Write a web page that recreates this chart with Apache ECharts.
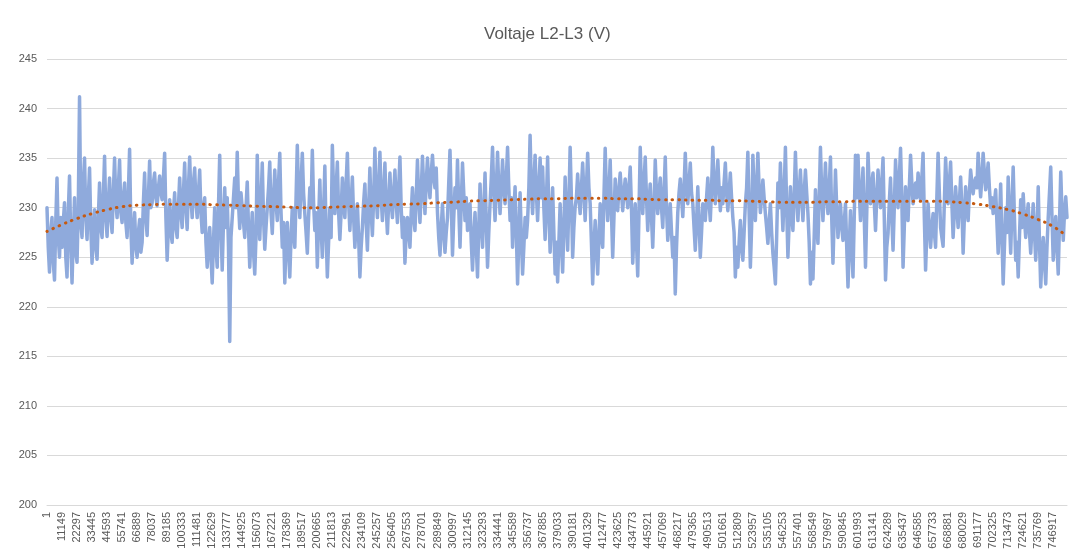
<!DOCTYPE html>
<html>
<head>
<meta charset="utf-8">
<script src="https://cdn.jsdelivr.net/npm/echarts@6/dist/echarts.min.js"></script>
<style>
  html, body { margin: 0; padding: 0; background: #ffffff; }
  #chart { width: 1073px; height: 554px; }
</style>
</head>
<body>
<div id="chart"></div>
<script>
// Line-to-line voltage L2-L3, one reading kept every 929 records
const chartTitle = 'Voltaje L2-L3 (V)';
const firstRecord = 1;
const sampleStep = 929;
const labelEvery = 12;           // 12 samples x 929 = 11148 records between labels

const voltage = [
  230, 226, 223.5, 227.5, 229, 224.5, 222.7, 228.5, 233, 227, 225, 229,
  226, 228.5, 230.5, 225, 223, 229.5, 233.2, 226.5, 222.4, 227, 231, 225.5,
  224.5, 230, 241.2, 228.5, 227, 232.5, 235, 229, 226.8, 231, 234, 228,
  224.4, 227.5, 229.8, 226, 224.8, 229, 232.5, 228, 227, 231, 235.2, 229,
  227.1, 230.5, 233, 229, 227.5, 231.5, 235, 230.5, 229, 232, 234.8, 229.5,
  228.5, 231, 232.5, 228.5, 227, 231.5, 235.9, 228, 224.4, 227.5, 229.5, 226,
  225, 227.5, 228.8, 225.5, 226.5, 230.5, 233.5, 229, 227.2, 231, 234.7, 230,
  230.5, 232.5, 233.5, 231, 230.2, 232, 233.2, 231.5, 230.8, 233, 235.5, 229,
  224.7, 228, 230.8, 227.5, 226.5, 229.5, 231.5, 228, 227, 230, 233, 229.5,
  228, 231.5, 234.5, 230, 227.8, 232, 235.1, 231, 229, 232.5, 234, 230.5,
  229, 231.5, 233.8, 229.5, 227.5, 230, 231, 226.5, 224, 226.5, 228, 225,
  222.4, 226.5, 230, 226, 224, 230, 235.3, 228, 223.7, 228.5, 232, 228,
  231, 226, 216.5, 227, 229, 231, 233, 230, 235.6, 230.5, 227.9, 231.5,
  231.5, 228.5, 227, 230, 232.6, 228, 224, 227, 229.5, 225.5, 223.3, 227,
  235.3, 230, 226.8, 230.5, 234.5, 229, 225.8, 228, 230, 232, 234.6, 229.5,
  227.4, 231, 233.8, 230.5, 228.7, 232.5, 235.5, 229.5, 226, 228.5, 222.4, 226.5,
  228.5, 225.5, 223, 227, 230, 227.5, 226, 231, 236.3, 231.5, 229, 232.5,
  235.5, 231.5, 229.4, 227.5, 225.4, 229, 232, 230, 235.8, 230.5, 227.7, 229.5,
  224, 228.5, 232.8, 228, 225, 229.5, 234.2, 227.5, 223, 226.5, 230, 227,
  236.3, 231.5, 229.4, 232, 234.6, 229.5, 226.8, 229.5, 233, 230.5, 229, 232.5,
  235.5, 230.5, 227.7, 230.5, 233.1, 229, 226, 228.5, 230.4, 227, 223, 226,
  228, 230.5, 232.4, 228.5, 225.7, 230, 234, 229.5, 227.2, 231, 236, 231,
  229, 232, 235.6, 231, 228.7, 231.5, 234.5, 230, 227.4, 230.5, 233.5, 230.5,
  229, 231.5, 233.8, 230.5, 228.5, 232, 235.1, 230, 227, 229, 224.4, 227.5,
  229, 227.5, 226, 229.5, 232, 229, 227.7, 231, 234.8, 231, 228.5, 231.5,
  235.2, 232, 229.4, 232.5, 235, 232.5, 231, 233.5, 235.3, 233, 232, 234,
  229.5, 227, 225.2, 228, 230.4, 227.5, 225.5, 227.5, 229, 232.5, 235.8, 230.5,
  225.2, 229, 232, 230, 234.8, 230, 226, 230.5, 234.5, 231.5, 228.7, 231,
  227.7, 229.5, 230.4, 226.5, 223.7, 227, 229.5, 226, 223, 228, 232.4, 228.5,
  226, 230, 233.5, 228.5, 224, 227.5, 230.4, 233, 236.1, 231.5, 228.7, 232,
  235.6, 232, 229.4, 232, 234.8, 232, 230.4, 233, 236.1, 232, 228.7, 231,
  226, 229.5, 232.1, 227.5, 222.3, 227, 231.5, 227, 223.3, 226, 229, 227,
  228.7, 232, 237.3, 232, 229.4, 232.5, 235.3, 231.5, 228.7, 232, 235, 231,
  234.1, 230, 226.8, 230.5, 235.1, 229.5, 225.5, 229, 232, 227.5, 223.3, 226.5,
  222.5, 226.5, 230.4, 226.5, 223.5, 228, 233.1, 229, 225.7, 230.5, 236.1, 231,
  225, 228, 230.1, 231, 233.4, 231, 229.4, 232, 234.5, 231.5, 228.7, 232,
  235.5, 232, 230.4, 226.5, 222.3, 226, 228.7, 226, 223.3, 227, 230.4, 227,
  226, 231, 236, 231.5, 228.7, 231.5, 234.8, 229.5, 225, 229, 232.9, 230,
  229.7, 232, 233.5, 231.5, 229.7, 231.5, 232.9, 231.5, 230, 232, 234.1, 230,
  224.4, 227.5, 230.4, 226.5, 223.1, 229.5, 236.1, 232, 229.4, 232.5, 235.1, 231,
  227.7, 230.5, 232.4, 229, 226, 230, 234.8, 231.5, 229.4, 231.5, 233, 230,
  228, 231.5, 235.1, 230, 226.7, 228.5, 230.4, 227.5, 225, 227, 221.3, 226,
  229.5, 231.5, 232.9, 231, 229.1, 232, 235.5, 232, 230.4, 232.5, 234.5, 231.5,
  230.4, 228, 225.7, 228.5, 232.1, 228.5, 225, 227.5, 230.4, 229.5, 228.7, 231,
  233, 230.5, 228.7, 232, 236.1, 232.5, 230.4, 232.5, 234.8, 232, 229.7, 232,
  230.4, 232.5, 234.5, 231.5, 229.7, 231.5, 233.5, 231, 229, 227.5, 223, 226,
  224, 226.5, 228.7, 226, 224.7, 227.5, 230.4, 232, 235.6, 229.5, 224, 228,
  235.3, 231.5, 228.7, 232, 235.5, 232, 229.5, 231, 232.8, 231, 229.4, 228,
  226.4, 228.5, 230.4, 227.5, 225.4, 224, 222.3, 227, 232.5, 230, 234.5, 231,
  227.7, 231.5, 236.1, 230, 225, 228.5, 232.1, 229.5, 227.7, 231, 235.6, 231.5,
  228.7, 231.5, 233.8, 231, 228.7, 231.5, 233.8, 231.5, 229.4, 226.5, 222.3, 225.5,
  222.8, 227, 231.8, 228.5, 226.4, 231, 236.1, 231.5, 228.7, 231.5, 234.5, 231,
  229.4, 232, 235.1, 229, 224.4, 229, 233.8, 230, 227, 229, 230.4, 228,
  226.7, 228.5, 230.4, 226, 222, 226, 229.7, 226, 223, 229, 235.3, 231,
  235.3, 231.5, 228.7, 231.5, 234, 229, 224, 229.5, 235.5, 232, 230.4, 232.5,
  233.5, 230.5, 227.7, 231, 233.8, 231.5, 230, 232.5, 235, 229, 222.7, 226,
  227.4, 230.5, 233, 229, 225.7, 230, 234.8, 232, 230, 233, 236, 231,
  224, 228, 232.1, 230, 228.7, 232, 235.3, 232.5, 230.4, 231.5, 232.5, 231,
  233.5, 232, 230.8, 233, 235.5, 229, 223.7, 227.5, 230.4, 228, 226, 228,
  229.4, 227.5, 226, 231, 235.5, 231.5, 228, 227, 226.1, 230.5, 235, 232,
  230.4, 232.5, 234.6, 230.5, 227, 229.5, 232.1, 230, 228, 230.5, 233.1, 230,
  225.4, 229, 232.1, 230, 228.7, 231.5, 233.8, 232.5, 231.4, 232.5, 233, 232,
  235.5, 233, 231.1, 233, 235.5, 233.5, 231.8, 233, 234.5, 232, 230, 231,
  229.4, 230.5, 231.8, 228.5, 225.4, 228.5, 232.4, 227, 222.3, 226, 230, 227.5,
  233.1, 229, 225.4, 230, 234.1, 229, 224.7, 226.5, 223, 227, 230.8, 228,
  231.4, 229, 227, 229, 230.4, 227.5, 225.4, 228, 230.4, 227.5, 224.7, 227.5,
  232.1, 226.5, 222, 225, 227, 224.5, 222.3, 226, 229, 231.5, 234.1, 229,
  224.7, 227, 229.1, 226, 223.3, 228.5, 233.6, 229.5, 226.7, 229.5, 231.1, 229
];

// Polynomial trend, read at every labelled record, plus the last sample
const trendAtLabels = [
  227.6, 228.3, 228.9, 229.4, 229.8, 230.1, 230.25, 230.3, 230.35, 230.35,
  230.35, 230.3, 230.25, 230.2, 230.15, 230.1, 230.05, 230.0, 230.0, 230.05,
  230.1, 230.15, 230.2, 230.3, 230.35, 230.4, 230.5, 230.55, 230.65, 230.7,
  230.75, 230.8, 230.85, 230.9, 230.9, 230.95, 230.95, 230.95, 230.9, 230.9,
  230.85, 230.8, 230.8, 230.75, 230.75, 230.7, 230.7, 230.65, 230.6, 230.55,
  230.55, 230.55, 230.6, 230.6, 230.65, 230.65, 230.65, 230.65, 230.65, 230.65,
  230.6, 230.5, 230.35, 230.1, 229.8, 229.35, 228.8, 228.1
];
const trendEnd = 227.1;

const yMin = 200, yMax = 245, yStep = 5;

const records = voltage.map((_, i) => String(firstRecord + i * sampleStep));
const trend = voltage.map(() => null);
trendAtLabels.forEach((v, k) => { trend[k * labelEvery] = v; });
trend[trend.length - 1] = trendEnd;

const textColor = '#595959';
const gridColor = '#d9d9d9';
const font = 'Liberation Sans, Arial, sans-serif';

const chart = echarts.init(document.getElementById('chart'), null, { renderer: 'canvas' });
chart.setOption({
  animation: false,
  backgroundColor: '#ffffff',
  title: {
    text: chartTitle,
    left: 479,
    top: 21,
    textStyle: { color: textColor, fontSize: 17, fontWeight: 'normal', fontFamily: font }
  },
  grid: { left: 47, right: 6, top: 59, bottom: 49, containLabel: false },
  xAxis: {
    type: 'category',
    data: records,
    boundaryGap: false,
    axisLine: { show: true, lineStyle: { color: gridColor, width: 1 } },
    axisTick: { show: false },
    axisLabel: {
      interval: labelEvery - 1,
      rotate: 90,
      margin: 7,
      color: textColor,
      fontSize: 11,
      fontFamily: font
    },
    splitLine: { show: false }
  },
  yAxis: {
    type: 'value',
    min: yMin,
    max: yMax,
    interval: yStep,
    axisLine: { show: false },
    axisTick: { show: false },
    axisLabel: { color: textColor, fontSize: 11, margin: 10, fontFamily: font },
    splitLine: { lineStyle: { color: gridColor, width: 1 } }
  },
  series: [
    {
      name: 'Voltaje L2-L3',
      type: 'line',
      data: voltage,
      showSymbol: false,
      sampling: null,
      lineStyle: { color: '#8faadc', width: 3.5, join: 'round', cap: 'round' },
      itemStyle: { color: '#8faadc' },
      z: 2
    },
    {
      name: 'Tendencia',
      type: 'line',
      data: trend,
      connectNulls: true,
      smooth: true,
      showSymbol: false,
      lineStyle: { color: '#c55a11', width: 3, type: [0.5, 6.2], cap: 'round' },
      itemStyle: { color: '#c55a11' },
      z: 3
    }
  ]
});
</script>
</body>
</html>
